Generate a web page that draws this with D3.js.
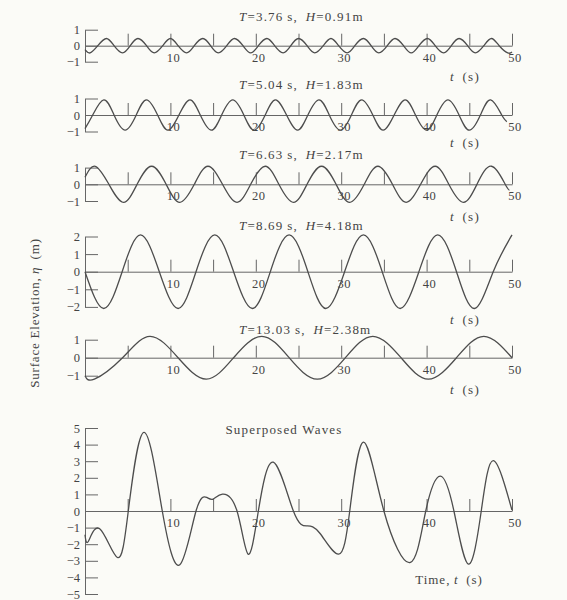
<!DOCTYPE html>
<html>
<head>
<meta charset="utf-8">
<script src="https://cdnjs.cloudflare.com/ajax/libs/d3/7.8.5/d3.min.js"></script>
<style>
  body { margin: 0; background: #fbfbf7; }
  svg { display: block; font-family: "Liberation Serif", "Times New Roman", serif; }
  .curve { fill: none; stroke: #4d4d4d; stroke-width: 1.3; }
  .axis path, .axis line { stroke: #666; stroke-width: 1; }
  .axis text { fill: #444; font-size: 12.5px; font-family: "Liberation Serif", serif; }
  .lbl { fill: #444; font-size: 13px; letter-spacing: 1.2px; }
</style>
</head>
<body>
<script>
// ---- data ----
var timeTicks  = [5, 10, 15, 20, 25, 30, 35, 40, 45, 50];
var timeLabels = [10, 20, 30, 40, 50];
var periods = ["3.76", "5.04", "6.63", "8.69", "13.03"];
var heights = ["0.91", "1.83", "2.17", "4.18", "2.38"];
var ticksSmall = [-1, 0, 1];
var ticksMid   = [-2, -1, 0, 1, 2];
var ticksSuper = [-5, -4, -3, -2, -1, 0, 1, 2, 3, 4, 5];

// [t (s), eta (m)] at peaks, troughs and zero crossings
var wave1 = [[0,-0.25],[0.6,-0.45],[1.5,0],[2.5,0.45],[3.4,0],[4.4,-0.45],[5.3,0],[6.2,0.45],
  [7.2,0],[8.1,-0.45],[9.1,0],[10.0,0.45],[10.9,0],[11.9,-0.45],[12.8,0],[13.8,0.45],[14.7,0],
  [15.6,-0.45],[16.6,0],[17.5,0.45],[18.5,0],[19.4,-0.45],[20.3,0],[21.3,0.45],[22.2,0],
  [23.2,-0.45],[24.1,0],[25.0,0.45],[26.0,0],[26.9,-0.45],[27.9,0],[28.8,0.45],[29.7,0],
  [30.7,-0.45],[31.6,0],[32.6,0.45],[33.5,0],[34.4,-0.45],[35.4,0],[36.3,0.45],[37.3,0],
  [38.2,-0.45],[39.1,0],[40.1,0.45],[41.0,0],[42.0,-0.45],[42.9,0],[43.8,0.45],[44.8,0],
  [45.7,-0.45],[46.7,0],[47.6,0.45],[48.5,0],[49.5,-0.45],[50,-0.4]];
var wave2 = [[0,-0.83],[0.9,0],[2.2,0.92],[3.4,0],[4.7,-0.92],[6.0,0],[7.2,0.92],[8.5,0],
  [9.7,-0.92],[11.0,0],[12.3,0.92],[13.5,0],[14.8,-0.92],[16.0,0],[17.3,0.92],[18.6,0],
  [19.8,-0.92],[21.1,0],[22.3,0.92],[23.6,0],[24.9,-0.92],[26.1,0],[27.4,0.92],[28.6,0],
  [29.9,-0.92],[31.2,0],[32.4,0.92],[33.7,0],[34.9,-0.92],[36.2,0],[37.5,0.92],[38.7,0],
  [40.0,-0.92],[41.2,0],[42.5,0.92],[43.8,0],[45.0,-0.92],[46.3,0],[47.5,0.92],[48.8,0],
  [49.4,-0.4]];
var wave3 = [[0,0.42],[1.2,1.08],[2.8,0],[4.5,-1.08],[6.1,0],[7.8,1.08],[9.5,0],[11.1,-1.08],
  [12.8,0],[14.4,1.08],[16.1,0],[17.8,-1.08],[19.4,0],[21.1,1.08],[22.7,0],[24.4,-1.08],
  [26.0,0],[27.7,1.08],[29.4,0],[31.0,-1.08],[32.7,0],[34.3,1.08],[36.0,0],[37.6,-1.08],
  [39.3,0],[41.0,1.08],[42.6,0],[44.3,-1.08],[45.9,0],[47.6,1.08],[49.2,0],[49.7,-0.35]];
var wave4 = [[0,0],[2.2,-2.09],[4.35,0],[6.5,2.09],[8.7,0],[10.9,-2.09],[13.0,0],[15.2,2.09],
  [17.4,0],[19.6,-2.09],[21.7,0],[23.9,2.09],[26.1,0],[28.2,-2.09],[30.4,0],[32.6,2.09],
  [34.8,0],[36.9,-2.09],[39.1,0],[41.3,2.09],[43.5,0],[45.6,-2.09],[47.8,0],[50,2.09]];
var wave5 = [[0,-1.0],[1.1,-1.19],[4.4,0],[7.6,1.19],[10.9,0],[14.2,-1.19],[17.4,0],[20.7,1.19],
  [23.9,0],[27.2,-1.19],[30.5,0],[33.7,1.19],[37.0,0],[40.2,-1.19],[43.5,0],[46.7,1.19],[50,0]];
var superposed = [[0,-1.43],[0.4,-1.82],[1.75,-1.08],[3.8,-2.8],[5.07,0],[6.9,4.74],[9.05,0],
  [11.1,-3.24],[13.0,0],[14.25,0.82],[15.0,0.72],[16.1,1.02],[17.8,0],[19.1,-2.6],[20.3,0],
  [22.05,2.94],[24.4,0],[26.0,-0.9],[27.5,-1.34],[29.7,-2.6],[31.0,0],[32.6,4.15],[35.0,0],
  [38.1,-3.1],[39.9,0],[41.6,2.1],[43.2,0],[44.9,-3.2],[46.4,0],[47.8,3.03],[50,0.05]];

// ---- layout ----
var W = 567, H = 600;
var svg = d3.select("body").append("svg").attr("width", W).attr("height", H);

var x = d3.scaleLinear().domain([0, 50]).range([85, 512]);

// zero line y, pixels per metre, y extent, title baseline, "t (s)" baseline
var panels = [
  {wave: wave1, ticks: ticksSmall, max: 1, zero: 45.7,  unit: 16,   title: 21,  tlab: 81},
  {wave: wave2, ticks: ticksSmall, max: 1, zero: 115,   unit: 16.5, title: 89,  tlab: 147},
  {wave: wave3, ticks: ticksSmall, max: 1, zero: 184.3, unit: 16.7, title: 159, tlab: 221},
  {wave: wave4, ticks: ticksMid,   max: 2, zero: 271.7, unit: 17.6, title: 230, tlab: 324},
  {wave: wave5, ticks: ticksSmall, max: 1, zero: 357.7, unit: 18,   title: 334, tlab: 394},
  {wave: superposed, ticks: ticksSuper, max: 5, zero: 511, unit: 16.6}
];

panels.forEach(function(p, i) {
  var y = d3.scaleLinear()
      .domain([-p.max, p.max])
      .range([p.zero + p.max * p.unit, p.zero - p.max * p.unit]);

  var g = svg.append("g");

  // bracket-style y axis, ticks pointing right
  g.append("g")
      .attr("class", "axis")
      .attr("transform", "translate(" + x(0) + ",0)")
      .call(d3.axisLeft(y).tickValues(p.ticks).tickFormat(d3.format("d"))
        .tickSizeInner(-13).tickSizeOuter(0).tickPadding(5));

  // time axis on the zero line, ticks pointing up
  g.append("g")
      .attr("class", "axis")
      .attr("transform", "translate(0," + y(0) + ")")
      .call(d3.axisTop(x).tickValues(timeTicks).tickSize(12).tickSizeOuter(0).tickFormat(""));

  g.selectAll(".tl")
    .data(timeLabels)
    .enter().append("text")
      .attr("x", function(d) { return x(d) + 3; })
      .attr("y", y(0) + 16)
      .attr("text-anchor", "middle")
      .style("fill", "#444")
      .style("font-size", "12.5px")
      .style("letter-spacing", "0.5px")
      .text(function(d) { return d; });

  var line = d3.line()
      .curve(d3.curveNatural)
      .x(function(d) { return x(d[0]); })
      .y(function(d) { return y(d[1]); });

  g.append("path")
      .attr("class", "curve")
      .attr("d", line(p.wave));

  if (i < 5) {
    var t = g.append("text").attr("class", "lbl").attr("x", 239).attr("y", p.title);
    t.append("tspan").style("font-style", "italic").text("T");
    t.append("tspan").text("=" + periods[i] + "\u2009s,\u2002");
    t.append("tspan").style("font-style", "italic").text("H");
    t.append("tspan").text("=" + heights[i] + "m");

    var u = g.append("text").attr("class", "lbl").attr("x", 465).attr("y", p.tlab)
        .attr("text-anchor", "middle");
    u.append("tspan").style("font-style", "italic").text("t");
    u.append("tspan").text("\u2002(s)");
  }
});

svg.append("text")
    .attr("class", "lbl")
    .attr("x", 284).attr("y", 434)
    .attr("text-anchor", "middle")
    .text("Superposed Waves");

var tl = svg.append("text").attr("class", "lbl")
    .attr("x", 449).attr("y", 584).attr("text-anchor", "middle")
    .style("letter-spacing", "1px");
tl.append("tspan").text("Time,\u2009");
tl.append("tspan").style("font-style", "italic").text("t");
tl.append("tspan").text("\u2002(s)");

var yl = svg.append("text").attr("class", "lbl")
    .attr("transform", "translate(39,313) rotate(-90)")
    .attr("text-anchor", "middle")
    .style("letter-spacing", "0.8px");
yl.append("tspan").text("Surface Elevation,\u2009");
yl.append("tspan").style("font-style", "italic").text("\u03b7");
yl.append("tspan").text("\u2002(m)");
</script>
</body>
</html>
